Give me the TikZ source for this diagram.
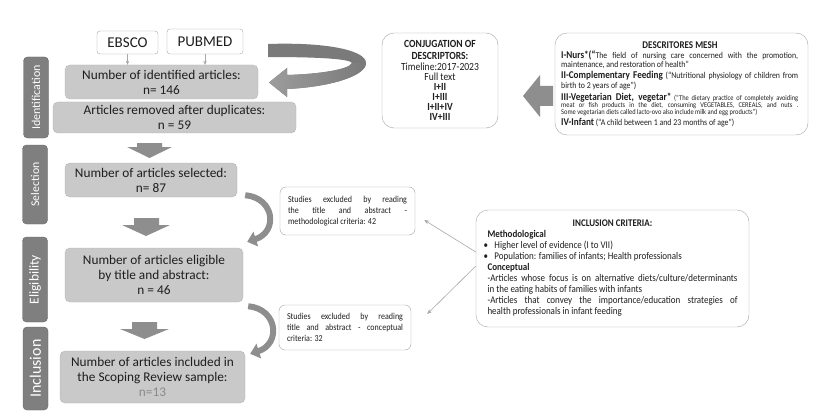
\documentclass[tikz,border=0pt]{standalone}
\usepackage{fontspec}
\setmainfont{Carlito}
\newfontfamily\condfam{Carlito}[FakeStretch=0.88]
\usetikzlibrary{arrows.meta}
\definecolor{phasefill}{HTML}{7F7F7F}
\definecolor{phaseline}{HTML}{666666}
\definecolor{boxfill}{HTML}{C9C9C9}
\definecolor{boxline}{HTML}{B5B5B5}
\definecolor{fatgray}{HTML}{8E8E8E}
\definecolor{fatdark}{HTML}{7A7A7A}
\definecolor{fatlight}{HTML}{9C9C9C}
\definecolor{frameline}{HTML}{A5A5A5}
\definecolor{thingray}{HTML}{A8A8A8}
\definecolor{txt}{HTML}{1E1E1E}
\definecolor{softtxt}{HTML}{8A8A8A}
\begin{document}
\begin{tikzpicture}[x=1pt,y=-1pt,
 phasebox/.style={draw=phaseline, fill=phasefill, rounded corners=4pt, text=white, rotate=90, minimum height=25pt, inner sep=0pt},
 mainbox/.style={draw=boxline, fill=boxfill, rounded corners=5pt, text=txt, align=center, inner sep=0pt, font=\fontsize{13.3}{15}\selectfont},
 srcbox/.style={draw=frameline, fill=white, rounded corners=3pt, text=txt, inner sep=0pt, font=\fontsize{15}{15}\selectfont},
 framebox/.style={draw=frameline, fill=white, rounded corners=12pt, inner sep=0pt},
 exbox/.style={draw=frameline, fill=white, rounded corners=6pt, text=txt, align=justify, inner xsep=8pt, inner ysep=0pt, font=\condfam\fontsize{9.1}{11}\selectfont},
 meshpar/.style={anchor=base west, inner sep=0pt, text width=237pt, align=justify, text=txt},
 fatarrow/.style={fill=fatgray},
 curvearrow/.style={draw=fatgray, line width=6pt, -{Triangle[length=9pt,width=15pt]}},
 thinarrow/.style={draw=thingray, line width=0.6pt, -{Stealth[length=5pt,width=4pt]}},
 srcarrow/.style={draw=thingray, line width=0.6pt, -{Stealth[length=4pt,width=3.5pt]}}
]
\useasboundingbox (0,0) rectangle (831,420);
\fill[white] (0,0) rectangle (831,420);

% phase labels
\node[phasebox, minimum width=81pt, font=\fontsize{12}{12}\selectfont] (phid) at (36,97.5) {Identification};
\node[phasebox, minimum width=79pt, font=\fontsize{11.8}{12}\selectfont] (phsel) at (35,184.5) {Selection};
\node[phasebox, minimum width=85pt, font=\fontsize{13.5}{13.5}\selectfont] (phel) at (35,279.5) {Eligibility};
\node[phasebox, minimum width=83pt, font=\fontsize{16}{16}\selectfont] (phin) at (35.5,368.5) {Inclusion};

% sources
\node[srcbox, minimum width=61pt, minimum height=23pt] (ebsco) at (127.5,42.5) {EBSCO};
\node[srcbox, minimum width=76pt, minimum height=25pt] (pubmed) at (205,41.5) {PUBMED};

% main boxes
\node[mainbox, minimum width=193pt, minimum height=34pt] (ident) at (161.5,82) {Number of identified articles:\\n= 146};
\node[mainbox, minimum width=243pt, minimum height=31pt] (dup) at (174.5,117.5) {Articles removed after duplicates:\\n = 59};
\node[mainbox, minimum width=172pt, minimum height=34pt] (sel) at (151,180) {Number of articles selected:\\n= 87};
\node[mainbox, minimum width=178pt, minimum height=54pt] (elig) at (154,275) {Number of articles eligible\\by title and abstract:\\n = 46};
\node[mainbox, minimum width=185pt, minimum height=52pt] (incl) at (152.5,377) {Number of articles included in\\the Scoping Review sample:\\\textcolor{softtxt}{n=13}};

\draw[srcarrow] (ebsco.south) -- (ebsco.south |- ident.north);
\draw[srcarrow] (pubmed.south) -- (pubmed.south |- ident.north);

% fat down arrows
\fill[fatarrow] (137,143) -- (162,143) -- (162,147) -- (172,147) -- (149.5,158) -- (127,147) -- (137,147) -- cycle;
\fill[fatarrow] (134,218) -- (159,218) -- (159,225) -- (170,225) -- (146,236) -- (122,225) -- (134,225) -- cycle;
\fill[fatarrow] (132,322) -- (157,322) -- (157,329) -- (169,329) -- (144.5,339) -- (120,329) -- (132,329) -- cycle;

% curved exclusion arrows
\draw[curvearrow] ([xshift=8pt,yshift=2pt]sel.south east) .. controls (275,198) and (278,232) .. ([xshift=4pt,yshift=6pt]elig.north east);
\draw[curvearrow] ([xshift=5pt,yshift=-4pt]elig.south east) .. controls (278,309) and (281,344) .. ([xshift=5pt,yshift=-3pt]incl.north east);

% exclusion boxes
\node[exbox, text width=119pt, minimum height=48pt] (ex1) at (347.5,211) {Studies excluded by reading\linebreak the title and abstract -\linebreak methodological criteria: 42};
\node[exbox, text width=116pt, minimum height=45pt] (ex2) at (345,327.5) {Studies excluded by reading\linebreak title and abstract - conceptual\linebreak criteria: 32};

% inclusion criteria
\node[framebox, text=txt, minimum width=273pt, minimum height=117pt, text width=250pt, align=justify, font=\condfam\fontsize{10.2}{11}\selectfont] (crit) at (612.5,268.5) {%
{\centering\bfseries INCLUSION CRITERIA:\par}
{\bfseries Methodological\par}
\hspace*{-4pt}\makebox[11pt][l]{\textbullet}Higher level of evidence (I to VII)\par
\hspace*{-4pt}\makebox[11pt][l]{\textbullet}Population: families of infants; Health professionals\par
{\bfseries Conceptual\par}
-Articles whose focus is on alternative diets/culture/determinants\linebreak in the eating habits of families with infants\par
-Articles that convey the importance/education strategies of\linebreak health professionals in infant feeding\par};

\draw[thinarrow] ([yshift=16.5pt]crit.west) -- ([xshift=9pt,yshift=-9pt]ex1.east);
\draw[thinarrow] ([yshift=2.5pt]crit.west) -- ([xshift=16pt,yshift=13.5pt]ex2.east);

% conjugation
\node[framebox, text=txt, minimum width=116pt, minimum height=95pt, align=center, font=\condfam\fontsize{10.9}{10}\selectfont] (conj) at (440,80.5) {\textbf{CONJUGATION OF}\\[1.5pt]\textbf{DESCRIPTORS:}\\[1.5pt]Timeline:2017-2023\\Full text\\\textbf{I+II}\\\textbf{I+III}\\\textbf{I+II+IV}\\\textbf{IV+III}};

% mesh descriptors
\node[framebox, minimum width=253pt, minimum height=102pt] (mesh) at (681.5,84) {};
\node[anchor=base, inner sep=0pt, text=txt, font=\condfam\bfseries\fontsize{10.3}{10}\selectfont] (meshtitle) at (680,49) {DESCRITORES MESH};
\node[meshpar, font=\condfam\fontsize{8.9}{8.5}\selectfont] (m1) at (561,59) {{\bfseries\fontsize{10.4}{8.5}\selectfont I-Nurs*(“}The field of nursing care concerned with the promotion,\linebreak maintenance, and restoration of health”};
\node[meshpar, font=\condfam\fontsize{8.9}{9.2}\selectfont] (m2) at (561,79) {{\bfseries\fontsize{10.4}{9.2}\selectfont II-Complementary Feeding} (“Nutritional physiology of children from\linebreak birth to 2 years of age”)};
\node[meshpar, font=\condfam\fontsize{7.3}{7}\selectfont] (m3) at (561,100) {{\bfseries\fontsize{10.4}{7}\selectfont III-Vegetarian Diet, vegetar*} (“The dietary practice of completely avoiding\linebreak meat or fish products in the diet, consuming VEGETABLES, CEREALS, and nuts .\linebreak Some vegetarian diets called lacto-ovo also include milk and egg products”)};
\node[meshpar, font=\condfam\fontsize{8.9}{9}\selectfont] (m4) at (561,125.5) {{\bfseries\fontsize{10.4}{9}\selectfont IV-Infant} (“A child between 1 and 23 months of age”)};

% fat left arrow
\fill[fatarrow] (553,86) -- (540,86) -- (540,75) -- (523,96) -- (540,117) -- (540,106) -- (553,106) -- cycle;

% big curved arrow
\fill[fatdark] (268,44) .. controls (325,42) and (366,50) .. (366,63) .. controls (366,76) and (330,87) .. (287,89) -- (287,97) -- (269,82.5) -- (287,68) -- (287,75) .. controls (322,74) and (350,69) .. (352,63) .. controls (350,59) and (320,57) .. (268,57) -- cycle;
\shade[left color=fatlight, right color=fatdark] (366,63) .. controls (366,76) and (330,87) .. (287,89) -- (287,97) -- (269,82.5) -- (287,68) -- (287,75) .. controls (322,74) and (350,69) .. (352,63) -- cycle;
\end{tikzpicture}
\end{document}
